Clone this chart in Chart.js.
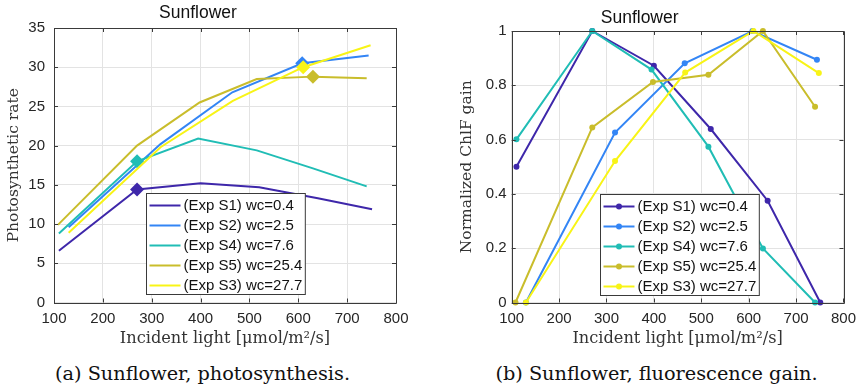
<!DOCTYPE html>
<html>
<head>
<meta charset="utf-8">
<script src="https://cdn.jsdelivr.net/npm/chart.js@4.4.1/dist/chart.umd.min.js"></script>
<style>
  html, body { margin: 0; padding: 0; background: #fff; }
  body { width: 863px; height: 388px; position: relative; overflow: hidden; }
  .wrap { position: absolute; top: 0; }
  .cap { position: absolute; top: 363px; font-family: "DejaVu Serif", serif; font-size: 19.3px; line-height: 22px; color: #111; text-align: center; white-space: nowrap; }
</style>
</head>
<body>
<div class="wrap" style="left:0;width:430px;height:352px"><canvas id="c1" width="430" height="352"></canvas></div>
<div class="wrap" style="left:430px;width:433px;height:352px"><canvas id="c2" width="433" height="352"></canvas></div>
<div class="cap" style="left:0;width:405px">(a) Sunflower, photosynthesis.</div>
<div class="cap" style="left:430px;width:453px">(b) Sunflower, fluorescence gain.</div>
<script>
// ---- data ----
const seriesLabels = ['(Exp S1) wc=0.4', '(Exp S2) wc=2.5', '(Exp S4) wc=7.6', '(Exp S5) wc=25.4', '(Exp S3) wc=27.7'];
const seriesColors = ['#3e27aa', '#3385f5', '#20bdb5', '#c9bd2b', '#f8f416'];

// incident light levels for each experiment
const lightS1 = [110, 270, 400, 520, 640, 751];
const lightS2 = [130, 318, 465, 608, 744];
const lightS4 = [110, 270, 395, 515, 630, 740];
const lightS5 = [108, 270, 398, 515, 630, 740];
const lightS3 = [130, 318, 466, 610, 748];

// photosynthetic rate
const photoS1 = [6.6, 14.4, 15.2, 14.7, 13.3, 11.9];
const photoS2 = [9.6, 20.2, 26.8, 30.5, 31.5];
const photoS4 = [8.8, 18.0, 20.9, 19.4, 17.1, 14.8];
const photoS5 = [9.9, 20.0, 25.5, 28.5, 28.8, 28.6];
const photoS3 = [8.9, 19.8, 25.7, 30.0, 32.8];

// normalized ChlF gain
const gainS1 = [0.5, 1.0, 0.872, 0.639, 0.375, 0];
const gainS2 = [0, 0.626, 0.881, 1.0, 0.894];
const gainS4 = [0.601, 1.0, 0.858, 0.574, 0.199, 0];
const gainS5 = [0, 0.645, 0.812, 0.839, 1.0, 0.721];
const gainS3 = [0, 0.521, 0.847, 1.0, 0.845];

const xTicks = [100, 200, 300, 400, 500, 600, 700, 800];
const yTicksPhoto = [0, 5, 10, 15, 20, 25, 30, 35];
const yTicksGain = [0, 0.2, 0.4, 0.6, 0.8, 1];

const lights = [lightS1, lightS2, lightS4, lightS5, lightS3];
const photos = [photoS1, photoS2, photoS4, photoS5, photoS3];
const gains = [gainS1, gainS2, gainS4, gainS5, gainS3];

// ---- helpers ----
const tickFont = { family: '"Liberation Sans", Arial, sans-serif', size: 15 };
const serif = '"DejaVu Serif", serif';
const TXT = '#262626';

function pts(xs, ys) { return xs.map((x, i) => ({ x: x, y: ys[i] })); }
function argmax(a) { let k = 0; a.forEach((v, i) => { if (v > a[k]) k = i; }); return k; }
function fmt(v) { return String(+(+v).toFixed(3)); }

const frame = {
  id: 'frame',
  afterDatasetsDraw(chart) {
    const { ctx, chartArea: a, scales } = chart;
    ctx.save();
    ctx.strokeStyle = '#3a3a3a';
    ctx.lineWidth = 1;
    ctx.beginPath();
    ctx.rect(Math.round(a.left) + 0.5, Math.round(a.top) + 0.5, Math.round(a.right - a.left), Math.round(a.bottom - a.top));
    ctx.stroke();
    const L = 4;
    ctx.beginPath();
    scales.x.ticks.forEach(t => {
      const px = Math.round(scales.x.getPixelForValue(t.value)) + 0.5;
      ctx.moveTo(px, a.bottom); ctx.lineTo(px, a.bottom - L);
      ctx.moveTo(px, a.top); ctx.lineTo(px, a.top + L);
    });
    scales.y.ticks.forEach(t => {
      const py = Math.round(scales.y.getPixelForValue(t.value)) + 0.5;
      ctx.moveTo(a.left, py); ctx.lineTo(a.left + L, py);
      ctx.moveTo(a.right, py); ctx.lineTo(a.right - L, py);
    });
    ctx.stroke();
    ctx.restore();
  }
};

const boxLegend = {
  id: 'boxLegend',
  afterDraw(chart, args, opts) {
    const { ctx, chartArea: a } = chart;
    const ds = chart.data.datasets;
    ctx.save();
    ctx.font = '15px "Liberation Sans", Arial, sans-serif';
    let tw = 0;
    ds.forEach(d => { tw = Math.max(tw, ctx.measureText(d.label).width); });
    const pad = 3, sample = 31, gap = 3, rowH = 20;
    const w = pad + sample + gap + tw + 3;
    const h = ds.length * rowH + 1;
    const x0 = Math.round(a.left + opts.fx * (a.right - a.left)) + 0.5;
    const y0 = Math.round(a.top + opts.fy * (a.bottom - a.top)) + 0.5;
    ctx.fillStyle = '#fff';
    ctx.fillRect(x0, y0, w, h);
    ctx.strokeStyle = '#3a3a3a';
    ctx.lineWidth = 1;
    ctx.strokeRect(x0, y0, w, h);
    ds.forEach((d, i) => {
      const cy = y0 + 12 + i * rowH;
      ctx.strokeStyle = d.borderColor;
      ctx.lineWidth = 2;
      ctx.beginPath();
      ctx.moveTo(x0 + pad, cy); ctx.lineTo(x0 + pad + sample, cy);
      ctx.stroke();
      if (opts.marker) {
        ctx.fillStyle = d.borderColor;
        ctx.beginPath();
        ctx.arc(x0 + pad + sample / 2, cy, 3, 0, Math.PI * 2);
        ctx.fill();
      }
      ctx.fillStyle = '#111';
      ctx.textBaseline = 'middle';
      ctx.textAlign = 'left';
      ctx.fillText(d.label, x0 + pad + sample + gap, cy + 0.5);
    });
    ctx.restore();
  }
};

function makeChart(id, cfg) {
  const datasets = seriesLabels.map((lab, i) => {
    const vals = cfg.values[i];
    const peak = argmax(gains[i]);
    return {
      label: lab,
      data: pts(lights[i], vals),
      borderColor: seriesColors[i],
      backgroundColor: seriesColors[i],
      borderWidth: 2,
      showLine: true,
      tension: 0,
      clip: false,
      order: seriesLabels.length - i,
      pointStyle: cfg.diamond ? 'rectRot' : 'circle',
      pointRadius: cfg.diamond ? vals.map((v, k) => k === peak ? 7 : 0) : 3,
      pointBorderWidth: 0,
      pointBackgroundColor: seriesColors[i],
      pointHoverRadius: 0
    };
  });
  return new Chart(document.getElementById(id), {
    type: 'scatter',
    data: { datasets },
    plugins: [frame, boxLegend],
    options: {
      responsive: false,
      animation: false,
      events: [],
      layout: { autoPadding: false, padding: { left: 0, right: cfg.padRight, top: 0, bottom: 0 } },
      plugins: {
        legend: { display: false },
        tooltip: { enabled: false },
        title: {
          display: true, text: 'Sunflower', color: '#111',
          font: { family: '"Liberation Sans", Arial, sans-serif', size: 17.5, weight: 'normal', lineHeight: 1.2 },
          padding: cfg.titlePad
        },
        boxLegend: cfg.legend
      },
      scales: {
        x: {
          type: 'linear', min: 100, max: 800,
          afterBuildTicks: s => { s.ticks = xTicks.map(v => ({ value: v })); },
          afterFit: s => { s.height = 352 - 302.5; },
          grid: { color: '#e3e3e3', drawTicks: false, lineWidth: 1 },
          border: { display: false },
          ticks: { color: TXT, font: tickFont, padding: 7, maxRotation: 0, callback: v => fmt(v) },
          title: {
            display: true, text: 'Incident light [μmol/m²/s]', color: '#333',
            font: { family: serif, size: 16.2, lineHeight: 1.2 }, padding: { top: 0, bottom: 3.3 }
          }
        },
        y: {
          type: 'linear', min: cfg.yMin, max: cfg.yMax,
          afterBuildTicks: s => { s.ticks = cfg.yTicks.map(v => ({ value: v })); },
          afterFit: s => { s.width = cfg.yWidth; },
          grid: { color: '#e3e3e3', drawTicks: false, lineWidth: 1 },
          border: { display: false },
          ticks: { color: TXT, font: tickFont, padding: cfg.yTickPad, callback: v => fmt(v) },
          title: {
            display: true, text: cfg.yTitle, color: '#333',
            font: { family: serif, size: 15.5, lineHeight: 1.2 }, padding: { top: cfg.yTitlePad, bottom: 0 }
          }
        }
      }
    }
  });
}

makeChart('c1', {
  values: photos, diamond: true,
  yMin: 0, yMax: 35, yTicks: yTicksPhoto,
  yWidth: 54, yTickPad: 9, padRight: 34,
  yTitle: 'Photosynthetic rate', yTitlePad: 4.7,
  titlePad: { top: 3, bottom: 4 },
  legend: { fx: 0.269, fy: 0.601, marker: false }
});

makeChart('c2', {
  values: gains, diamond: false,
  yMin: 0, yMax: 1, yTicks: yTicksGain,
  yWidth: 81.7, yTickPad: 5, padRight: 13.7,
  yTitle: 'Normalized ChlF gain', yTitlePad: 27.4,
  titlePad: { top: 7.5, bottom: 2.5 },
  legend: { fx: 0.2675, fy: 0.600, marker: true }
});
</script>
</body>
</html>
